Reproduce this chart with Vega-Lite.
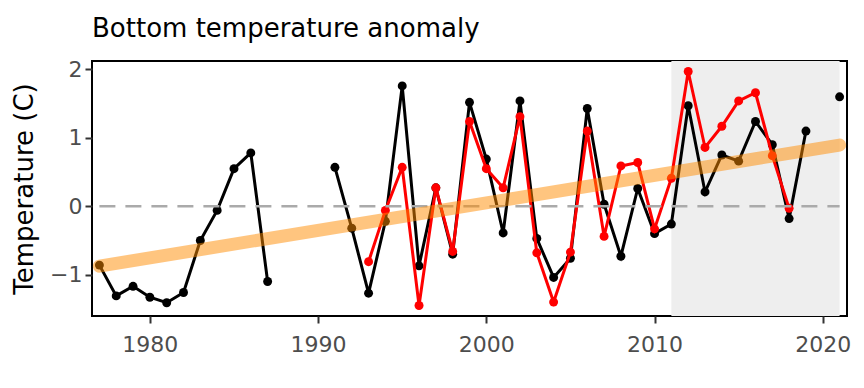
{
  "$schema": "https://vega.github.io/schema/vega-lite/v6.json",
  "autosize": {"type": "none"},
  "width": 755,
  "height": 255,
  "padding": {"left": 92, "top": 61, "right": 17, "bottom": 72},
  "background": "white",
  "config": {
    "font": "DejaVu Sans",
    "view": {"stroke": "black", "strokeWidth": 2},
    "axis": {
      "grid": false,
      "domain": false,
      "labelFont": "DejaVu Sans",
      "labelColor": "#4D4D4D",
      "labelFontSize": 22,
      "tickColor": "#333333",
      "tickWidth": 2,
      "tickSize": 7,
      "titleFont": "DejaVu Sans",
      "titleFontWeight": "normal",
      "titleColor": "black"
    }
  },
  "title": {
    "text": "Bottom temperature anomaly",
    "anchor": "start",
    "frame": "group",
    "font": "DejaVu Sans",
    "fontSize": 26,
    "fontWeight": "normal",
    "color": "black",
    "baseline": "alphabetic",
    "offset": -5
  },
  "datasets": {
    "black": [
      {"year": 1977, "value": -0.86},
      {"year": 1978, "value": -1.31},
      {"year": 1979, "value": -1.17},
      {"year": 1980, "value": -1.33},
      {"year": 1981, "value": -1.41},
      {"year": 1982, "value": -1.26},
      {"year": 1983, "value": -0.5},
      {"year": 1984, "value": -0.06},
      {"year": 1985, "value": 0.55},
      {"year": 1986, "value": 0.78},
      {"year": 1987, "value": -1.1},
      {"year": 1988, "value": null},
      {"year": 1989, "value": null},
      {"year": 1990, "value": null},
      {"year": 1991, "value": 0.57},
      {"year": 1992, "value": -0.32},
      {"year": 1993, "value": -1.27},
      {"year": 1994, "value": -0.22},
      {"year": 1995, "value": 1.76},
      {"year": 1996, "value": -0.87},
      {"year": 1997, "value": 0.27},
      {"year": 1998, "value": -0.7},
      {"year": 1999, "value": 1.52},
      {"year": 2000, "value": 0.69},
      {"year": 2001, "value": -0.39},
      {"year": 2002, "value": 1.54},
      {"year": 2003, "value": -0.47},
      {"year": 2004, "value": -1.04},
      {"year": 2005, "value": -0.76},
      {"year": 2006, "value": 1.43},
      {"year": 2007, "value": 0.03},
      {"year": 2008, "value": -0.73},
      {"year": 2009, "value": 0.26},
      {"year": 2010, "value": -0.4},
      {"year": 2011, "value": -0.26},
      {"year": 2012, "value": 1.47},
      {"year": 2013, "value": 0.21},
      {"year": 2014, "value": 0.75},
      {"year": 2015, "value": 0.66},
      {"year": 2016, "value": 1.24},
      {"year": 2017, "value": 0.9},
      {"year": 2018, "value": -0.18},
      {"year": 2019, "value": 1.1},
      {"year": 2020, "value": null},
      {"year": 2021, "value": 1.6}
    ],
    "red": [
      {"year": 1993, "value": -0.81},
      {"year": 1994, "value": -0.06},
      {"year": 1995, "value": 0.57},
      {"year": 1996, "value": -1.45},
      {"year": 1997, "value": 0.27},
      {"year": 1998, "value": -0.66},
      {"year": 1999, "value": 1.24},
      {"year": 2000, "value": 0.55},
      {"year": 2001, "value": 0.27},
      {"year": 2002, "value": 1.31},
      {"year": 2003, "value": -0.68},
      {"year": 2004, "value": -1.4},
      {"year": 2005, "value": -0.67},
      {"year": 2006, "value": 1.1},
      {"year": 2007, "value": -0.44},
      {"year": 2008, "value": 0.59},
      {"year": 2009, "value": 0.64},
      {"year": 2010, "value": -0.33},
      {"year": 2011, "value": 0.41},
      {"year": 2012, "value": 1.97},
      {"year": 2013, "value": 0.86},
      {"year": 2014, "value": 1.17},
      {"year": 2015, "value": 1.54},
      {"year": 2016, "value": 1.66},
      {"year": 2017, "value": 0.74},
      {"year": 2018, "value": -0.03}
    ],
    "trend": [
      {"year": 1977, "value": -0.875},
      {"year": 2021, "value": 0.895}
    ],
    "shade": [
      {"start": 2011, "end": 2021}
    ],
    "zero": [
      {"start": 1977, "end": 2021, "value": 0}
    ]
  },
  "encoding": {
    "x": {
      "field": "year",
      "type": "quantitative",
      "scale": {"domain": [1976.56, 2021.44], "nice": false, "zero": false},
      "axis": {"values": [1980, 1990, 2000, 2010, 2020], "format": "d", "title": null, "labelPadding": 11}
    },
    "y": {
      "field": "value",
      "type": "quantitative",
      "scale": {"domain": [-1.604, 2.124], "nice": false, "zero": false},
      "axis": {"values": [-1, 0, 1, 2], "format": "d", "title": "Temperature (C)", "titleFontSize": 26, "labelPadding": 3, "titlePadding": 12}
    }
  },
  "layer": [
    {
      "data": {"name": "shade"},
      "mark": {"type": "rect", "color": "#EEEEEE"},
      "encoding": {
        "x": {"field": "start", "type": "quantitative"},
        "x2": {"field": "end"},
        "y": null
      }
    },
    {
      "data": {"name": "black"},
      "mark": {"type": "line", "color": "black", "strokeWidth": 3},
      "encoding": {}
    },
    {
      "data": {"name": "black"},
      "mark": {"type": "circle", "color": "black", "size": 80, "opacity": 1},
      "encoding": {}
    },
    {
      "data": {"name": "red"},
      "mark": {"type": "line", "color": "#FF0000", "strokeWidth": 3},
      "encoding": {}
    },
    {
      "data": {"name": "red"},
      "mark": {"type": "circle", "color": "#FF0000", "size": 80, "opacity": 1},
      "encoding": {}
    },
    {
      "data": {"name": "zero"},
      "mark": {"type": "rule", "color": "#AAAAAA", "strokeWidth": 2.5, "strokeDash": [16, 10]},
      "encoding": {
        "x": {"field": "start", "type": "quantitative"},
        "x2": {"field": "end"}
      }
    },
    {
      "data": {"name": "trend"},
      "mark": {"type": "line", "color": "#FF8C00", "strokeWidth": 13, "strokeCap": "round", "opacity": 0.5},
      "encoding": {}
    }
  ]
}
